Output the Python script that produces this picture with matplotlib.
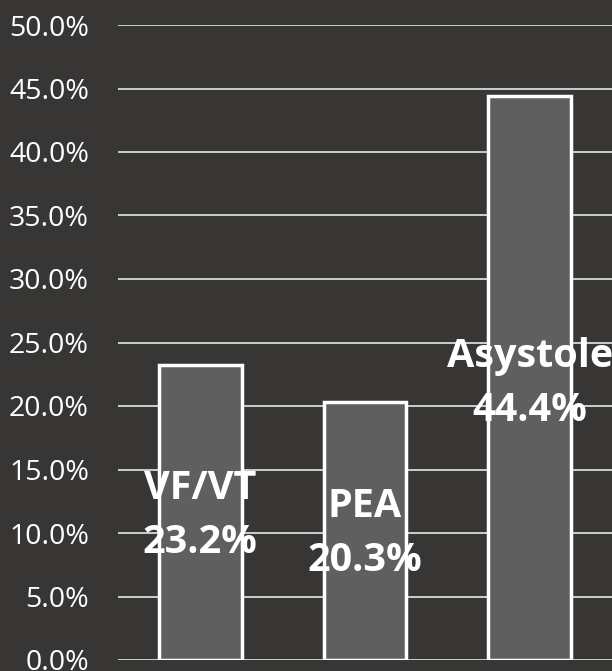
import matplotlib.pyplot as plt
from matplotlib.ticker import FuncFormatter

categories = ['VF/VT', 'PEA', 'Asystole']
values = [23.2, 20.3, 44.4]
yticks = [0, 5, 10, 15, 20, 25, 30, 35, 40, 45, 50]

bg = '#383634'
bar_color = '#5f5f5f'

plt.rcParams['font.family'] = ['Open Sans', 'DejaVu Sans']

fig = plt.figure(figsize=(6.12, 6.71), dpi=100)
fig.patch.set_facecolor(bg)
ax = fig.add_axes([118 / 612, 11 / 671, 494 / 612, 635 / 671])
ax.set_facecolor(bg)

x = range(len(categories))
ax.bar(x, values, width=0.5, color=bar_color, edgecolor='white', linewidth=2.5, zorder=3)

for i, (cat, val) in enumerate(zip(categories, values)):
    ax.text(i, val * 0.49, f'{cat}\n{val:.1f}%', ha='center', va='center',
            color='white', fontsize=28.5, fontweight='bold', linespacing=1.5, zorder=4)

ax.set_xlim(-0.5, 2.5)
ax.set_ylim(0, 50)
ax.set_yticks(yticks)
ax.yaxis.set_major_formatter(FuncFormatter(lambda v, p: f'{v:.1f}%'))
ax.tick_params(axis='y', length=0, pad=21, labelsize=20.5, labelcolor='white')
ax.set_xticks([])
ax.grid(True, axis='y', color='#d9d9d9', linewidth=1.3, zorder=0)
ax.set_axisbelow(True)
for s in ax.spines.values():
    s.set_visible(False)

plt.savefig('out.png', dpi=100, facecolor=bg)
